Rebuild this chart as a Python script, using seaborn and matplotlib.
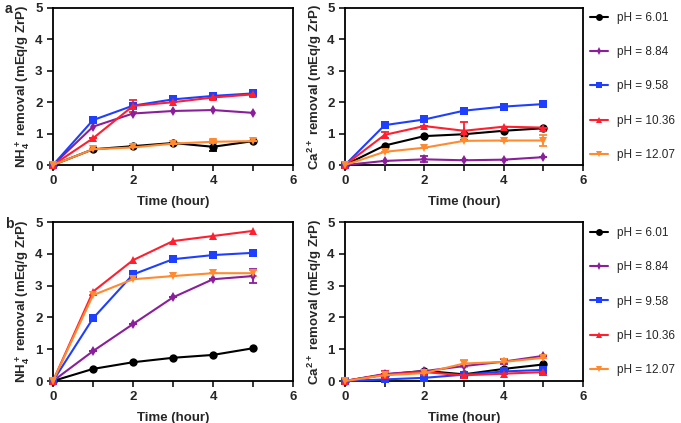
import numpy as np
import pandas as pd
import seaborn as sns
import matplotlib.pyplot as plt
from matplotlib.lines import Line2D
from matplotlib.ticker import MultipleLocator

# zaman ekseni (saat)
time = [0, 1, 2, 3, 4, 5]
ph_labels = ["pH = 6.01", "pH = 8.84", "pH = 9.58", "pH = 10.36", "pH = 12.07"]

# a - NH4+ giderimi
a_nh4_601 = [0, 0.50, 0.60, 0.70, 0.58, 0.76]
a_nh4_884 = [0, 1.22, 1.64, 1.72, 1.75, 1.66]
a_nh4_958 = [0, 1.43, 1.89, 2.09, 2.20, 2.28]
a_nh4_1036 = [0, 0.85, 1.88, 2.00, 2.15, 2.25]
a_nh4_1207 = [0, 0.50, 0.56, 0.68, 0.74, 0.76]
a_nh4_err = [[0, 0, 0, 0, 0.12, 0], [0, 0, 0, 0, 0, 0], [0, 0, 0, 0, 0, 0],
             [0, 0, 0.20, 0, 0, 0], [0, 0, 0, 0, 0.05, 0]]

# a - Ca2+ giderimi
a_ca_601 = [0, 0.62, 0.92, 0.98, 1.09, 1.17]
a_ca_884 = [0, 0.13, 0.18, 0.15, 0.17, 0.25]
a_ca_958 = [0, 1.27, 1.45, 1.73, 1.86, 1.94]
a_ca_1036 = [0, 0.96, 1.24, 1.09, 1.22, 1.19]
a_ca_1207 = [0, 0.42, 0.55, 0.77, 0.78, 0.78]
a_ca_err = [[0, 0, 0, 0, 0, 0], [0, 0, 0.10, 0, 0, 0], [0, 0, 0, 0.07, 0, 0],
            [0, 0.10, 0, 0.28, 0, 0], [0, 0, 0, 0, 0, 0.17]]

# b - NH4+ giderimi
b_nh4_601 = [0, 0.38, 0.59, 0.73, 0.82, 1.03]
b_nh4_884 = [0, 0.94, 1.79, 2.63, 3.20, 3.30]
b_nh4_958 = [0, 1.97, 3.35, 3.83, 3.96, 4.03]
b_nh4_1036 = [0, 2.81, 3.80, 4.40, 4.56, 4.72]
b_nh4_1207 = [0, 2.70, 3.20, 3.30, 3.39, 3.39]
b_nh4_err = [[0, 0, 0, 0, 0, 0], [0, 0, 0, 0, 0, 0.23], [0, 0, 0, 0, 0, 0],
             [0, 0, 0, 0, 0, 0], [0, 0, 0, 0, 0, 0.1]]

# b - Ca2+ giderimi
b_ca_601 = [0, 0.20, 0.32, 0.21, 0.38, 0.52]
b_ca_884 = [0, 0.22, 0.31, 0.47, 0.61, 0.79]
b_ca_958 = [0, 0.05, 0.10, 0.20, 0.30, 0.35]
b_ca_1036 = [0, 0.20, 0.28, 0.18, 0.23, 0.28]
b_ca_1207 = [0, 0.18, 0.25, 0.55, 0.60, 0.73]
b_ca_err = [[0, 0, 0, 0, 0, 0], [0, 0, 0, 0, 0.08, 0], [0, 0, 0, 0, 0, 0],
            [0, 0.13, 0, 0.10, 0, 0.08], [0, 0, 0, 0.10, 0, 0]]

colors = ["#000000", "#8B1F9B", "#1F3FFF", "#FF1F2F", "#FF8A30"]
markers = ["o", "d", "s", "^", "v"]
msizes = [6, 5, 6, 6, 6]

sns.set_style("ticks")
plt.rcParams['font.family'] = ['Liberation Sans', 'DejaVu Sans']
plt.rcParams['mathtext.fontset'] = 'custom'
plt.rcParams['mathtext.bf'] = 'Liberation Sans:bold'
plt.rcParams['mathtext.rm'] = 'Liberation Sans:bold'
plt.rcParams['mathtext.default'] = 'bf'

fig = plt.figure(figsize=(6.81, 4.23), dpi=100)
W, H = 681, 423


def px_axes(x0, y0, x1, y1):
    return fig.add_axes([x0 / W, 1 - y1 / H, (x1 - x0) / W, (y1 - y0) / H])


panels = [
    (px_axes(53, 8, 293, 165), [a_nh4_601, a_nh4_884, a_nh4_958, a_nh4_1036, a_nh4_1207], a_nh4_err,
     r"NH$_4^+$ removal (mEq/g ZrP)"),
    (px_axes(345, 8, 583, 165), [a_ca_601, a_ca_884, a_ca_958, a_ca_1036, a_ca_1207], a_ca_err,
     r"Ca$^{2+}$ removal (mEq/g ZrP)"),
    (px_axes(53, 222, 293, 381), [b_nh4_601, b_nh4_884, b_nh4_958, b_nh4_1036, b_nh4_1207], b_nh4_err,
     r"NH$_4^+$ removal (mEq/g ZrP)"),
    (px_axes(345, 222, 583, 381), [b_ca_601, b_ca_884, b_ca_958, b_ca_1036, b_ca_1207], b_ca_err,
     r"Ca$^{2+}$ removal (mEq/g ZrP)"),
]

for ax, series, errs, ylab in panels:
    for i, vals in enumerate(series):
        df = pd.DataFrame({"t": time, "v": vals})
        sns.lineplot(data=df, x="t", y="v", ax=ax, color=colors[i], marker=markers[i],
                     markersize=msizes[i], markeredgewidth=0, linewidth=1.5, clip_on=False,
                     zorder=3 + i * 0.1)
        e = np.array(errs[i])
        if e.any():
            ax.errorbar(time, vals, yerr=e, fmt="none", ecolor=colors[i], elinewidth=1.3,
                        capsize=3, capthick=1.3, zorder=3)
    ax.set_xlim(0, 6)
    ax.set_ylim(0, 5)
    ax.xaxis.set_major_locator(MultipleLocator(2))
    ax.xaxis.set_minor_locator(MultipleLocator(1))
    ax.yaxis.set_major_locator(MultipleLocator(1))
    ax.tick_params(which="both", direction="out", width=1.3, labelsize=9.5)
    ax.tick_params(which="major", length=4)
    ax.tick_params(which="minor", length=4)
    for lab in ax.get_xticklabels() + ax.get_yticklabels():
        lab.set_fontweight("bold")
    for sp in ax.spines.values():
        sp.set_linewidth(1.3)
        sp.set_color("black")
    ax.set_xlabel("Time (hour)", fontsize=9.5, fontweight="bold", labelpad=6)
    ax.set_ylabel(ylab, fontsize=9.5, fontweight="bold", labelpad=2)

handles = [Line2D([], [], color=colors[i], marker=markers[i], markersize=msizes[i] - 1,
                  markeredgewidth=0, linewidth=1.5) for i in range(5)]
for ax in [panels[1][0], panels[3][0]]:
    ax.legend(handles, ph_labels, loc="center left", bbox_to_anchor=(1.0, 0.5),
              frameon=False, fontsize=8.5, labelspacing=1.9, handlelength=1.5,
              handletextpad=0.8, borderaxespad=0.2)

fig.text(5 / W, 1 - 9 / H, "a", fontsize=10, fontweight="bold", va="center")
fig.text(5 / W, 1 - 224 / H, "b", fontsize=10, fontweight="bold", va="center")

fig.savefig("out.png", dpi=100)
